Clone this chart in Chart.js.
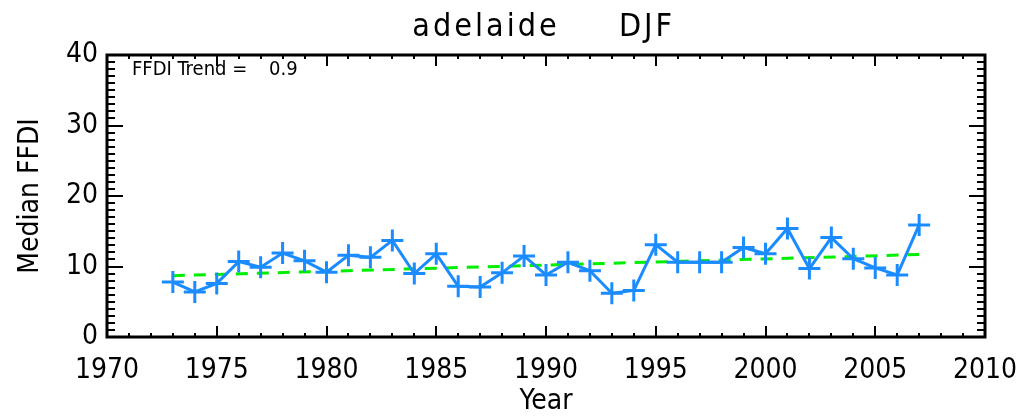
<!DOCTYPE html>
<html>
<head>
<meta charset="utf-8">
<script src="https://cdn.jsdelivr.net/npm/chart.js@4"></script>
<style>
  html, body { margin:0; padding:0; background:#fff; }
  #wrap { width:1026px; height:416px; }
</style>
</head>
<body>
<div id="wrap"><canvas id="c" width="1026" height="416"></canvas></div>
<script>
// data
const years = [1973,1974,1975,1976,1977,1978,1979,1980,1981,1982,1983,1984,1985,1986,1987,1988,1989,1990,
  1991,1992,1993,1994,1995,1996,1997,1998,1999,2000,2001,2002,2003,2004,2005,2006,2007];
const ffdi = [7.8,6.4,7.6,10.7,9.9,11.9,10.8,9.2,11.6,11.3,13.7,9.0,11.8,7.2,7.1,9.1,11.5,8.8,
  10.6,9.4,6.2,6.6,13.1,10.6,10.6,10.6,12.7,11.8,15.4,9.7,14.1,11.1,9.8,8.8,15.9];
const trendYears = [1973, 2007];
const trendVals = [8.7, 11.7];
const xTicks = [1970,1975,1980,1985,1990,1995,2000,2005,2010];
const yTicks = [0,10,20,30,40];

const FONT = "'DejaVu Sans Condensed', 'DejaVu Sans', sans-serif";

// IDL-style box with inward major/minor ticks, title and trend note
const idlFrame = {
  id: 'idlFrame',
  afterDraw(chart) {
    const ctx = chart.ctx, a = chart.chartArea;
    const xs = chart.scales.x, ys = chart.scales.y;
    ctx.save();
    ctx.strokeStyle = '#000';
    ctx.lineWidth = 3;
    ctx.strokeRect(a.left, a.top, a.right - a.left, a.bottom - a.top);
    ctx.lineWidth = 2;
    ctx.beginPath();
    for (let v = 1970; v <= 2010; v++) {
      const p = Math.round(xs.getPixelForValue(v));
      const len = v % 5 === 0 ? 11 : 4;
      ctx.moveTo(p, a.bottom); ctx.lineTo(p, a.bottom - len);
      ctx.moveTo(p, a.top); ctx.lineTo(p, a.top + len);
    }
    for (let v = 0; v <= 40; v++) {
      const p = Math.round(ys.getPixelForValue(v));
      const len = v % 10 === 0 ? 16 : 8;
      ctx.moveTo(a.left, p); ctx.lineTo(a.left + len, p);
      ctx.moveTo(a.right, p); ctx.lineTo(a.right - len, p);
    }
    ctx.stroke();
    // title
    ctx.fillStyle = '#000';
    ctx.textAlign = 'center';
    ctx.textBaseline = 'middle';
    ctx.font = '32px ' + FONT;
    ctx.letterSpacing = '3px';
    ctx.fillText('adelaide', 486, 28);
    ctx.fillText('DJF', 647, 28);
    // trend note
    ctx.letterSpacing = '0px';
    ctx.textAlign = 'left';
    ctx.font = '20px ' + FONT;
    ctx.fillText('FFDI Trend =', 132, 70);
    ctx.fillText('0.9', 269, 70);
    ctx.restore();
  }
};

new Chart(document.getElementById('c').getContext('2d'), {
  type: 'line',
  data: {
    datasets: [
      {
        label: 'trend',
        data: trendYears.map((y, i) => ({ x: y, y: trendVals[i] })),
        borderColor: '#00ee00',
        borderWidth: 3,
        borderDash: [12, 9],
        pointRadius: 0,
        order: 2
      },
      {
        label: 'FFDI',
        data: years.map((y, i) => ({ x: y, y: ffdi[i] })),
        borderColor: '#1a8cff',
        backgroundColor: '#1a8cff',
        borderWidth: 3,
        pointStyle: 'cross',
        pointRadius: 11,
        pointBorderWidth: 3,
        tension: 0,
        order: 1
      }
    ]
  },
  options: {
    responsive: false,
    animation: false,
    layout: { padding: { top: 55, right: 41, left: 0, bottom: 0 } },
    plugins: { legend: { display: false }, tooltip: { enabled: false } },
    scales: {
      x: {
        type: 'linear', min: 1970, max: 2010,
        afterBuildTicks: s => { s.ticks = xTicks.map(v => ({ value: v })); },
        afterFit: s => { s.height = 79; s.paddingLeft = 0; s.paddingRight = 0; },
        grid: { display: false, drawTicks: false },
        border: { display: false },
        ticks: { color: '#000', font: { family: FONT, size: 28 }, padding: 17, maxRotation: 0,
          callback: v => String(v) },
        title: { display: true, text: 'Year', color: '#000', font: { family: FONT, size: 28, lineHeight: 1 }, padding: { top: 9, bottom: 0 } }
      },
      y: {
        min: 0, max: 40,
        afterBuildTicks: s => { s.ticks = yTicks.map(v => ({ value: v })); },
        afterFit: s => { s.width = 107; },
        grid: { display: false, drawTicks: false },
        border: { display: false },
        ticks: { color: '#000', font: { family: FONT, size: 28 }, padding: 9, callback: v => String(v) },
        title: { display: true, text: 'Median FFDI', color: '#000', font: { family: FONT, size: 28 }, padding: { top: 14, bottom: 8 } }
      }
    }
  },
  plugins: [idlFrame]
});
</script>
</body>
</html>
